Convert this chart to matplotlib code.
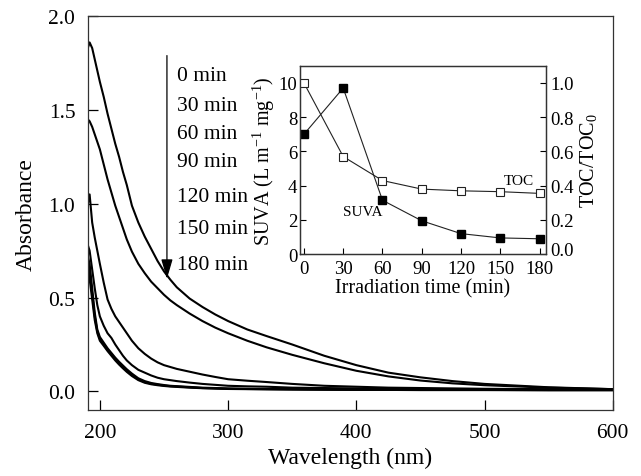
import matplotlib
matplotlib.use('Agg')
import matplotlib.pyplot as plt
from matplotlib.transforms import ScaledTranslation

plt.rcParams['font.family'] = ['Liberation Serif', 'DejaVu Serif']
plt.rcParams['mathtext.fontset'] = 'custom'
plt.rcParams['mathtext.rm'] = 'Liberation Serif'
plt.rcParams['mathtext.it'] = 'Liberation Serif:italic'

# absorbance spectra
wavelength = [190.6, 192, 194, 196, 198, 200, 203, 206, 209, 212, 215, 218, 221, 225,
              230, 235, 240, 245, 250, 255, 260, 270, 280, 290, 300, 315, 330, 350,
              375, 400, 425, 450, 475, 500, 550, 600]
abs_0 = [1.83, 1.86, 1.83, 1.77, 1.71, 1.65, 1.57, 1.48, 1.40, 1.32, 1.25, 1.17, 1.10, 0.99,
         0.90, 0.825, 0.76, 0.695, 0.64, 0.595, 0.555, 0.495, 0.45, 0.41, 0.375, 0.33, 0.295, 0.25,
         0.19, 0.14, 0.10, 0.075, 0.055, 0.04, 0.022, 0.012]
abs_30 = [1.45, 1.44, 1.41, 1.37, 1.33, 1.29, 1.21, 1.13, 1.06, 0.99, 0.93, 0.87, 0.81, 0.745,
          0.68, 0.63, 0.585, 0.55, 0.515, 0.485, 0.46, 0.415, 0.375, 0.34, 0.31, 0.27, 0.235, 0.195,
          0.15, 0.11, 0.08, 0.058, 0.043, 0.033, 0.02, 0.012]
abs_60 = [1.00, 1.05, 0.90, 0.82, 0.75, 0.68, 0.58, 0.49, 0.44, 0.40, 0.37, 0.34, 0.31, 0.27,
          0.23, 0.20, 0.175, 0.155, 0.14, 0.13, 0.12, 0.105, 0.09, 0.077, 0.065, 0.057, 0.05, 0.04,
          0.03, 0.025, 0.02, 0.018, 0.016, 0.014, 0.012, 0.01]
abs_90 = [0.78, 0.75, 0.65, 0.55, 0.46, 0.40, 0.35, 0.31, 0.285, 0.25, 0.22, 0.19, 0.165, 0.14,
          0.115, 0.10, 0.085, 0.073, 0.065, 0.06, 0.055, 0.047, 0.04, 0.035, 0.03, 0.027, 0.025, 0.02,
          0.018, 0.016, 0.014, 0.013, 0.012, 0.011, 0.01, 0.009]
abs_120 = [0.72, 0.68, 0.55, 0.42, 0.33, 0.29, 0.26, 0.23, 0.205, 0.18, 0.158, 0.138, 0.118, 0.095,
           0.07, 0.055, 0.045, 0.039, 0.034, 0.03, 0.028, 0.024, 0.02, 0.018, 0.016, 0.014, 0.013, 0.012,
           0.011, 0.01, 0.01, 0.009, 0.009, 0.009, 0.008, 0.008]
abs_150 = [0.68, 0.64, 0.52, 0.40, 0.32, 0.28, 0.25, 0.22, 0.197, 0.172, 0.15, 0.13, 0.11, 0.088,
           0.064, 0.05, 0.041, 0.036, 0.031, 0.028, 0.026, 0.022, 0.018, 0.016, 0.014, 0.013, 0.012, 0.011,
           0.01, 0.009, 0.009, 0.008, 0.008, 0.008, 0.007, 0.007]
abs_180 = [0.64, 0.60, 0.49, 0.38, 0.31, 0.27, 0.243, 0.215, 0.19, 0.165, 0.143, 0.123, 0.104, 0.082,
           0.06, 0.046, 0.038, 0.033, 0.029, 0.026, 0.024, 0.02, 0.017, 0.015, 0.013, 0.012, 0.011, 0.01,
           0.009, 0.008, 0.008, 0.007, 0.007, 0.007, 0.006, 0.006]
spectra = [abs_0, abs_30, abs_60, abs_90, abs_120, abs_150, abs_180]
time_labels = ['0 min', '30 min', '60 min', '90 min', '120 min', '150 min', '180 min']
label_y = [1.685, 1.524, 1.374, 1.225, 1.037, 0.866, 0.679]

# inset data
irr_time = [0, 30, 60, 90, 120, 150, 180]
suva = [7.0, 9.7, 3.15, 1.95, 1.2, 0.95, 0.9]
toc_ratio = [1.0, 0.57, 0.43, 0.38, 0.37, 0.365, 0.355]

fig = plt.figure(figsize=(6.41, 4.77), dpi=100)
ax = fig.add_axes((0.137, 0.138, 0.819, 0.826))

for series in spectra:
    ax.plot(wavelength, series, color='black', lw=1.5, solid_joinstyle='round')

ax.set_xlim(190.6, 600)
ax.set_ylim(-0.1, 2.0)
ax.set_xticks([200, 300, 400, 500, 600])
ax.set_yticks([0.0, 0.5, 1.0, 1.5, 2.0])
ax.set_yticklabels(['0.0', '0.5', '1.0', '1.5', '2.0'])
ax.tick_params(direction='in', length=7, width=0.9, labelsize=15.5, pad=9)
ax.set_xlabel('Wavelength (nm)', fontsize=17, labelpad=4)
ax.set_ylabel('Absorbance', fontsize=17, labelpad=8)
for sp in ax.spines.values():
    sp.set_linewidth(0.9)
    sp.set_color('#333333')

ax.annotate('', xy=(252.3, 0.60), xytext=(252.3, 1.79),
            arrowprops=dict(arrowstyle='-|>,head_length=1.2,head_width=0.35',
                            color='black', lw=0.9, shrinkA=0, shrinkB=0))
for lbl, yy in zip(time_labels, label_y):
    ax.text(260, yy, lbl, fontsize=15.5, va='center', ha='left')

ins = fig.add_axes((0.468, 0.465, 0.384, 0.395))
ins.plot(irr_time, suva, color='#222222', lw=0.8, marker='s', ms=5.5,
         mfc='black', mec='black')
ins.set_xlim(-3, 185)
ins.set_ylim(0, 11)
ins.set_xticks(irr_time)
ins.set_yticks([0, 2, 4, 6, 8, 10])
ins.tick_params(direction='in', length=4, width=0.8, labelsize=13.5, pad=2)
ins.tick_params(axis='x', pad=4)
ins.set_xlabel('Irradiation time (min)', fontsize=14.5, labelpad=1)
ins.set_ylabel('SUVA (L m$^{-1}$ mg$^{-1}$)', fontsize=14.5, labelpad=1)
ins.text(44.6, 2.5, 'SUVA', fontsize=11, ha='center', va='center')
ins.text(164, 4.3, 'TOC', fontsize=11, ha='center', va='center')

tw = ins.twinx()
tw.plot(irr_time, toc_ratio, color='#222222', lw=0.8, marker='s', ms=5.5,
        mfc='white', mec='#222222', mew=0.8)
tw.set_ylim(0, 1.1)
tw.set_yticks([0.0, 0.2, 0.4, 0.6, 0.8, 1.0])
tw.set_yticklabels(['0.0', '0.2', '0.4', '0.6', '0.8', '1.0'])
tw.tick_params(direction='in', length=4, width=0.8, labelsize=13.5, pad=3)
# lift the bottom label a little so it clears "180"
zero_lbl = tw.get_yticklabels()[0]
zero_lbl.set_transform(zero_lbl.get_transform() + ScaledTranslation(0, 4 / 72, fig.dpi_scale_trans))
tw.set_ylabel('TOC/TOC$_0$', fontsize=14.5, labelpad=3)
for a in (ins, tw):
    for sp in a.spines.values():
        sp.set_linewidth(0.9)
        sp.set_color('#333333')

fig.savefig('out.png', dpi=100)
